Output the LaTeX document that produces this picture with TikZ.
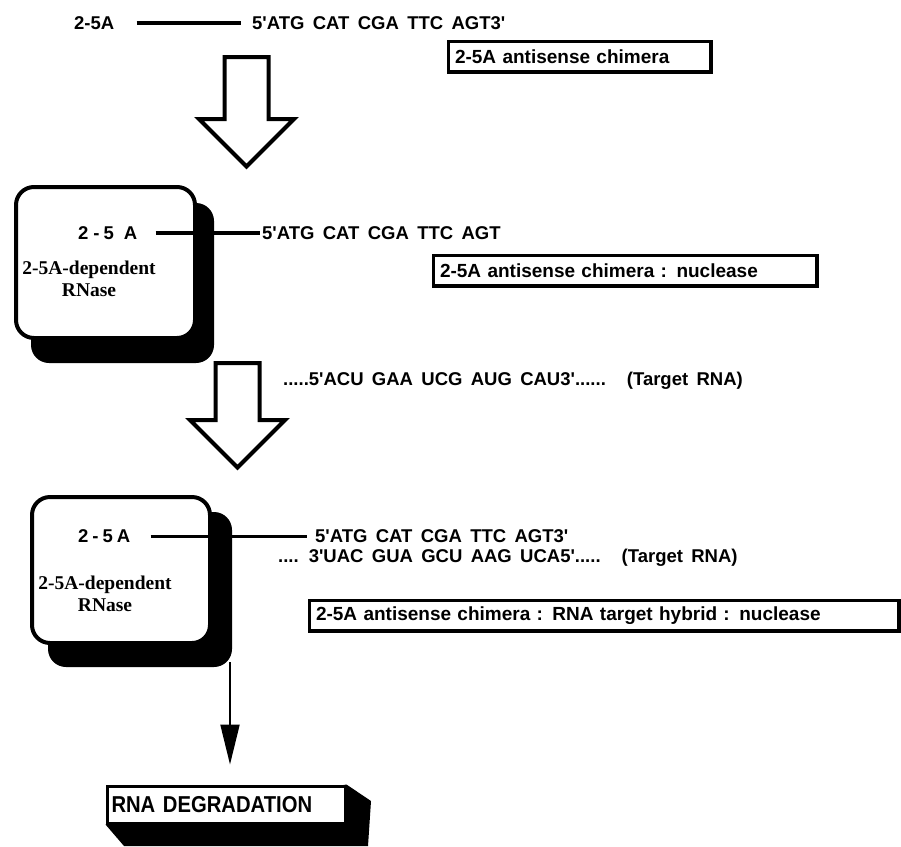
\documentclass[tikz,border=0pt]{standalone}
\usepackage{fontspec}
\setmainfont{Liberation Serif}
\newfontfamily\helv{Liberation Sans}
\newfontfamily\helvnarrow[FakeStretch=0.88]{Liberation Sans}
\usetikzlibrary{positioning,arrows.meta,calc,backgrounds}
\newlength{\bwidth}
\setlength{\bwidth}{3.5pt}
\newcommand{\seqfont}{\helv\bfseries\fontsize{18.5}{20}\selectfont\spaceskip=0.45em plus 0.1em\relax}
\newcommand{\labfont}{\helv\bfseries\fontsize{19}{21}\selectfont\spaceskip=0.65em plus 0.1em\relax}

\begin{document}
\begin{tikzpicture}[x=1pt,y=-1pt,
  seqtext/.style={anchor=base west,inner sep=0pt,font=\seqfont},
  tagtext/.style={anchor=base west,inner sep=0pt,
    font=\helv\bfseries\fontsize{18.5}{20}\selectfont},
  rnlabel/.style={align=center,inner sep=0pt,
    font=\bfseries\fontsize{19.5}{22}\selectfont},
  labelbox/.style={draw,line width=\bwidth,anchor=north west,
    inner xsep=6.5pt,inner ysep=0pt,minimum height=30.5pt,align=left,font=\labfont},
  enzyme/.style={draw,line width=4pt,fill=white,rounded corners=18pt,
    anchor=north west,inner sep=0pt},
  strand/.style={line width=4pt},
  blockarrow/.style={draw,line width=4pt,fill=white,miter limit=10},
  degbox/.style={draw,line width=3pt,fill=white,anchor=north west,
    inner xsep=4.5pt,inner ysep=0pt,align=left,
    font=\helvnarrow\bfseries\fontsize{23}{26}\selectfont},
  thinarrow/.style={line width=2pt,-{Triangle[length=40pt,width=19pt]}}
]
  \useasboundingbox (0,0) rectangle (901,846);

  %% antisense chimera
  %% ------------------------------------
  \node[tagtext] (a0) at (74,29.5) {2-5A};
  \node[seqtext] (s0) at (252,29.5) {5'ATG CAT CGA TTC AGT3'};
  \draw[strand,shorten <=22pt,shorten >=11pt] (a0.east) -- (a0.east -| s0.west);
  \node[labelbox,text width=249.5pt] (l0) at (446.75,39.75) {2-5A antisense chimera};

  %% first block arrow
  %% ------------------------------------
  \pgfmathsetmacro{\ax}{246.5}
  \draw[blockarrow] (\ax-22,57) -- (\ax+22,57) -- (\ax+22,119) -- (\ax+47.5,119)
     -- (\ax,166.5) -- (\ax-47.5,119) -- (\ax-22,119) -- cycle;

  %% chimera : nuclease
  %% ------------------------------------
  \node[enzyme,minimum width=179pt,minimum height=151pt] (rn1) at (14,185) {};
  \begin{scope}[on background layer]
    \fill[rounded corners=18pt] ($(rn1.north west)+(17,18)$) rectangle ($(rn1.south east)+(17,23)$);
  \end{scope}
  \node[tagtext] (a1) at (78,239.5) {2\hspace{5pt}-\hspace{4pt}5\hspace{10pt}A};
  \node[rnlabel] (d1) at (89,279) {2-5A-dependent\\RNase};
  \node[seqtext] (s1) at (262,239.5) {5'ATG CAT CGA TTC AGT};
  \draw[strand,shorten <=18pt,shorten >=2pt] (a1.east) -- (a1.east -| s1.west);
  \node[labelbox,text width=370.5pt] (l1) at (431.75,253.75) {2-5A antisense chimera : nuclease};

  %% second block arrow
  %% ------------------------------------
  \pgfmathsetmacro{\bx}{237.5}
  \draw[blockarrow] (\bx-22,363) -- (\bx+22,363) -- (\bx+22,420) -- (\bx+47.5,420)
     -- (\bx,467.5) -- (\bx-47.5,420) -- (\bx-22,420) -- cycle;
  \node[seqtext] (t1) at (283,385.5) {.....5'ACU GAA UCG AUG CAU3'......\hspace{21pt}(Target RNA)};

  %% hybrid : nuclease
  %% ------------------------------------
  \node[enzyme,minimum width=178pt,minimum height=146pt] (rn2) at (30,495) {};
  \begin{scope}[on background layer]
    \fill[rounded corners=18pt] ($(rn2.north west)+(18,17)$) rectangle ($(rn2.south east)+(20,22)$);
  \end{scope}
  \node[tagtext] (a2) at (78,542.5) {2\hspace{4pt}-\hspace{4pt}5\hspace{4pt}A};
  \node[rnlabel] (d2) at (105,594) {2-5A-dependent\\RNase};
  \node[seqtext] (s2) at (315,542) {5'ATG CAT CGA TTC AGT3'};
  \node[seqtext] (t2) at (278,562.5) {.... 3'UAC GUA GCU AAG UCA5'.....\hspace{21pt}(Target RNA)};
  \draw[line width=3pt,shorten <=20pt,shorten >=8pt] (a2.east) -- (a2.east -| s2.west);
  \node[labelbox,text width=576.5pt] (l2) at (307.75,598.75) {2-5A antisense chimera : RNA target hybrid : nuclease};

  %% degradation
  %% ------------------------------------
  \node[degbox,text width=229pt,minimum height=37pt] (deg) at (105.5,784.5) {RNA DEGRADATION};
  \begin{scope}[on background layer]
    \fill (deg.north east) -- ++(24.5,16.5) -- (368,846) -- (124,846) -- (deg.south west) -- cycle;
  \end{scope}
  \coordinate (cut) at (230,662);
  \draw[thinarrow,shorten >=20pt] (cut) -- (cut |- deg.north);
\end{tikzpicture}
\end{document}
